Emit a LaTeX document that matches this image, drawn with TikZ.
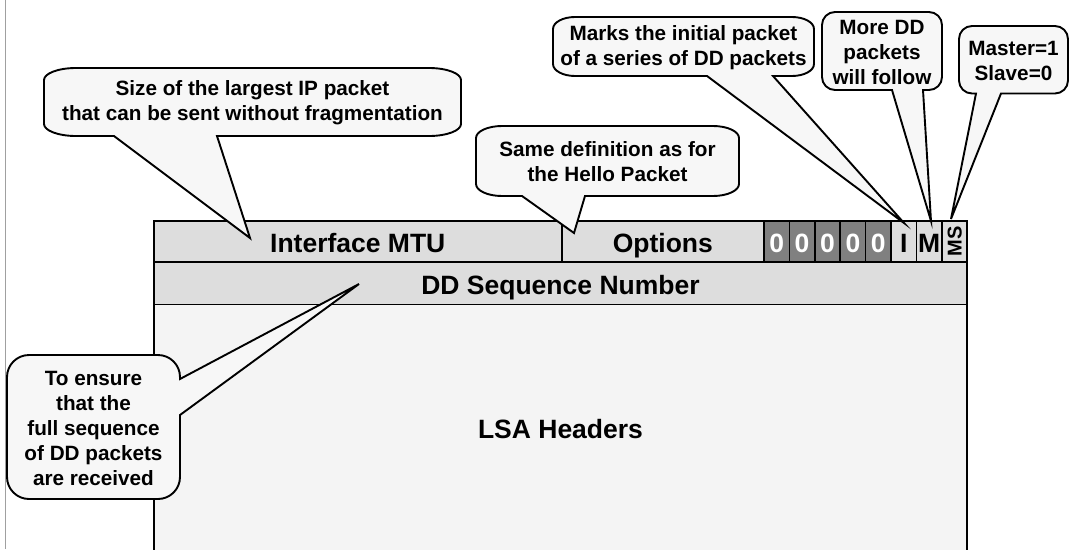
\documentclass[tikz,border=0pt]{standalone}
\usepackage{fontspec}
\setmainfont{Liberation Sans}
\definecolor{rowgray}{HTML}{DDDDDD}
\definecolor{lsagray}{HTML}{F4F4F4}
\definecolor{darkcell}{HTML}{808080}
\definecolor{callfill}{HTML}{F7F7F7}
\definecolor{edgegray}{HTML}{A0A0A0}
\newcommand\cbset[6]{\def\cxa{#1}\def\cya{#2}\def\cxb{#3}\def\cyb{#4}\def\crx{#5}\def\cry{#6}}
% rounded (elliptical) corners, k = 0.448 of the radius from the corner
\newcommand\cbtop{%
  (\cxa,{\cya+\cry}) .. controls (\cxa,{\cya+0.448*\cry}) and ({\cxa+0.448*\crx},\cya) .. ({\cxa+\crx},\cya)
  -- ({\cxb-\crx},\cya) .. controls ({\cxb-0.448*\crx},\cya) and (\cxb,{\cya+0.448*\cry}) .. (\cxb,{\cya+\cry})}
\newcommand\cbbr{%
  (\cxb,{\cyb-\cry}) .. controls (\cxb,{\cyb-0.448*\cry}) and ({\cxb-0.448*\crx},\cyb) .. ({\cxb-\crx},\cyb)}
\newcommand\cbbl{%
  ({\cxa+\crx},\cyb) .. controls ({\cxa+0.448*\crx},\cyb) and (\cxa,{\cyb-0.448*\cry}) .. (\cxa,{\cyb-\cry})}
% callout with wedge on the bottom side: #1 left base x, #2 right base x, #3 tip coordinate name
\newcommand\cbbottom[3]{%
  \filldraw[callout] \cbtop -- \cbbr -- (#2,\cyb) -- (#3) -- (#1,\cyb) -- \cbbl -- cycle;}
% callout with wedge on the right side: #1 upper base y, #2 lower base y, #3 tip coordinate name
\newcommand\cbright[3]{%
  \filldraw[callout] \cbtop -- (\cxb,#1) -- (#3) -- (\cxb,#2) -- \cbbr -- \cbbl -- cycle;}
\begin{document}
\begin{tikzpicture}[x=1pt,y=-1pt,
  cellbox/.style={draw=black,line width=1.8pt,fill=rowgray},
  bitbox/.style={draw=black,line width=1.5pt,fill=darkcell},
  flagbox/.style={draw=black,line width=1.5pt,fill=rowgray},
  bigtext/.style={font=\fontsize{26.5}{30}\selectfont\bfseries,inner sep=0pt,anchor=base},
  bittext/.style={font=\fontsize{26.5}{30}\selectfont\bfseries,inner sep=0pt,anchor=base,text=white},
  calltext/.style={font=\fontsize{20.7}{25}\selectfont\bfseries,align=center,inner sep=0pt},
  callout/.style={draw=black,line width=1.9pt,fill=callfill,line join=miter}]
\useasboundingbox[fill=white] (0,0) rectangle (1071,549);
\draw[edgegray,line width=1pt] (5.5,0) -- (5.5,549);
% table
\fill[lsagray] (154,304.5) rectangle (967,552);
\draw[black,line width=1.8pt] (154,304.5) -- (154,552);
\draw[black,line width=1.8pt] (967,304.5) -- (967,552);
\draw[cellbox] (154,221) rectangle (561.7,262);
\draw[cellbox] (561.7,221) rectangle (764,262);
\draw[cellbox] (154,262) rectangle (967,304.5);
\foreach \i in {0,...,4}{
  \draw[bitbox] ({764+25.4*\i},221) rectangle ({764+25.4*(\i+1)},262);
  \node[bittext] (zero\i) at ({764+25.4*(\i+0.5)},252.5) {0};
}
\draw[flagbox] (891,221) rectangle (916.4,262);
\draw[flagbox] (916.4,221) rectangle (941.8,262);
\draw[flagbox] (941.8,221) rectangle (967,262);
\node[bigtext] (mtu) at (357.8,252.5) {Interface MTU};
\node[bigtext] (opt) at (662.8,252.5) {Options};
\node[bigtext] (ibit) at (903.7,252.5) {I};
\node[bigtext] (mbit) at (929.1,252.5) {M};
\node[font=\fontsize{20}{21}\selectfont\bfseries,inner sep=0pt,rotate=90] (msbit) at (954.8,241.5) {MS};
\node[bigtext] (seq) at (560.5,294) {DD Sequence Number};
\node[bigtext] (lsa) at (560.5,438) {LSA Headers};
% callout tips
\coordinate (tipmtu) at (250,238);
\coordinate (tipopt) at (574,233);
\coordinate (tipi) at (904,223);
\coordinate (tipm) at (931,221);
\coordinate (tipms) at (951,219);
\coordinate (tipseq) at (359,284);
% callouts
\cbset{44}{68}{461}{136}{32}{12}\cbbottom{114}{217}{tipmtu}
\node[calltext] (csize) at (252.5,103) {Size of the largest IP packet\\that can be sent without fragmentation};
\cbset{476}{126}{739}{196}{26}{12}\cbbottom{522}{585}{tipopt}
\node[calltext] (csame) at (607.5,162) {Same definition as for\\the Hello Packet};
\cbset{553}{17}{814}{76}{22}{12}\cbbottom{707}{773}{tipi}
\node[calltext] (cmarks) at (683.5,47.5) {Marks the initial packet\\of a series of DD packets};
\cbset{822}{12}{942}{90}{13}{13}\cbbottom{892}{923}{tipm}
\node[calltext] (cmore) at (882,52) {More DD\\packets\\will follow};
\cbset{959}{26}{1068}{93.5}{13}{13}\cbbottom{976}{1001}{tipms}
\node[calltext] (cmaster) at (1013.5,60.5) {Master=1\\Slave=0};
\cbset{7}{355}{180}{499}{22}{22}\cbright{379}{415}{tipseq}
\node[calltext] (censure) at (93.5,428) {To ensure\\that the\\full sequence\\of DD packets\\are received};
\end{tikzpicture}
\end{document}
